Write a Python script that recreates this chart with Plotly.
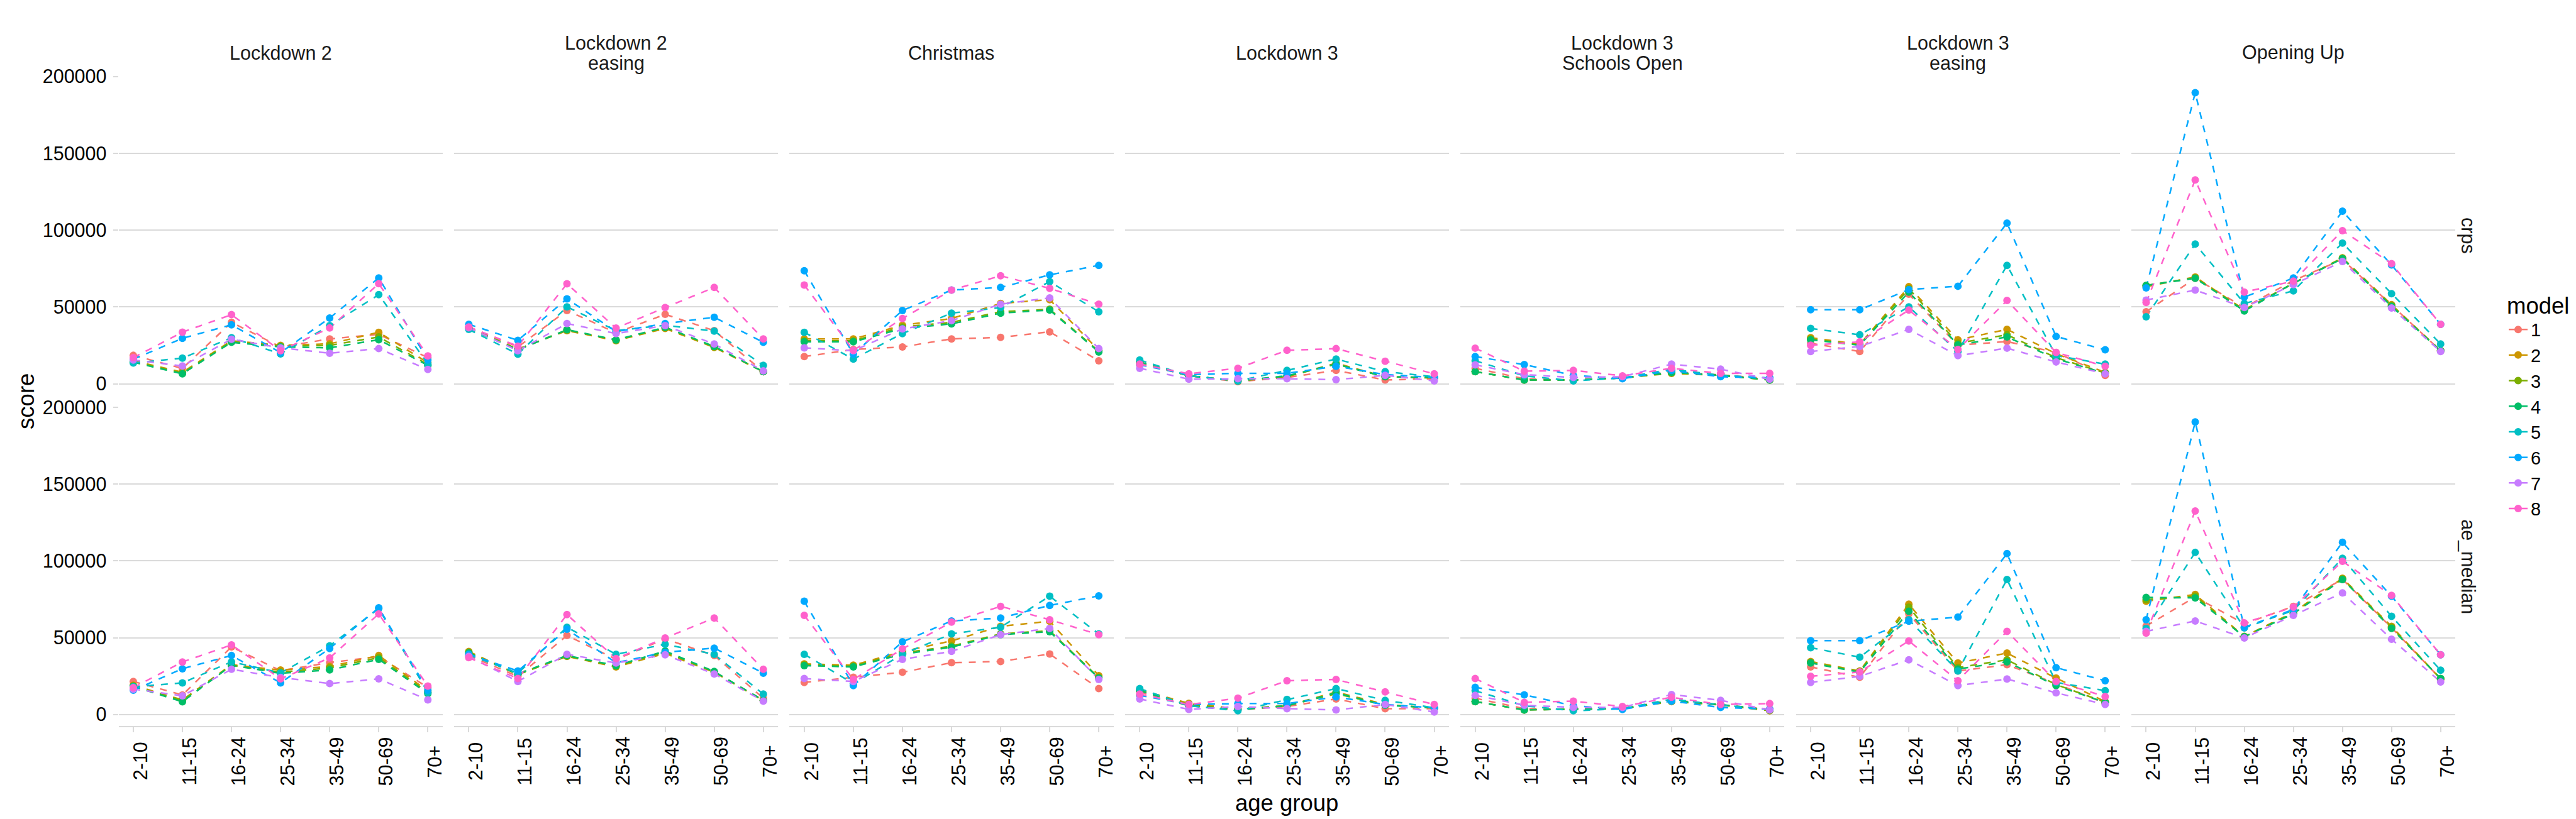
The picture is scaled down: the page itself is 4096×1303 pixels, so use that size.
import plotly.graph_objects as go

# ---------------- data ----------------
periods = ["Lockdown 2", "Lockdown 2\neasing", "Christmas", "Lockdown 3",
           "Lockdown 3\nSchools Open", "Lockdown 3\neasing", "Opening Up"]
metrics = ["crps", "ae_median"]
age_groups = ["2-10", "11-15", "16-24", "25-34", "35-49", "50-69", "70+"]
models = ["1", "2", "3", "4", "5", "6", "7", "8"]
colors = ["#F8766D", "#CD9600", "#7CAE00", "#00BE67",
          "#00BFC4", "#00A9FF", "#C77CFF", "#FF61CC"]
y_ticks = [0, 50000, 100000, 150000, 200000]

# values in thousands; one row per model (1..8), one column per age group
crps_lockdown_2 = [
    [18.5, 10, 40, 24, 29.2, 32.2, 17],
    [15, 7.5, 28, 25, 26, 33.5, 13.7],
    [14.5, 7, 27.5, 24.5, 25, 30.5, 12.5],
    [14, 6.5, 27, 24, 23.4, 28.7, 12],
    [13.5, 16.7, 30, 19.5, 37.9, 58, 12.9],
    [16, 29.6, 38.4, 20.3, 42.8, 68.9, 15.5],
    [15.5, 11.6, 29, 23.4, 19.9, 22.9, 9.3],
    [17, 33.6, 45, 21.5, 36.3, 65.2, 18.1],
]
crps_lockdown_2_easing = [
    [37, 24, 47.7, 33.2, 45.2, 34.6, 7.9],
    [36.5, 22.5, 34.6, 28.1, 36, 23.7, 7.9],
    [36.5, 22.5, 35, 28.4, 36.5, 24, 7.9],
    [36, 22, 35.2, 28.6, 36.8, 24.3, 7.9],
    [35.4, 19.3, 50.1, 34.6, 38.1, 34.3, 12],
    [38.7, 28.3, 55.3, 34, 39.2, 43.3, 27],
    [36.5, 21.5, 39.2, 32.7, 37.9, 25.9, 8.4],
    [37, 24.5, 65.1, 36.2, 49.6, 62.7, 29.2],
]
crps_christmas = [
    [17.7, 22.3, 24, 29.2, 30.2, 33.8, 15],
    [29.2, 29.2, 38.1, 42.5, 52.3, 54.8, 21.8],
    [28, 28, 37, 40, 46.9, 48.5, 21.2],
    [27.3, 27.3, 36, 39, 46, 48, 20.7],
    [33.5, 16.1, 32.7, 46, 49.6, 66.5, 46.9],
    [73.6, 19.3, 47.7, 61, 62.7, 70.9, 77.1],
    [23.4, 21.5, 35.7, 41.1, 51.8, 55.9, 22.9],
    [64.3, 21.8, 42.5, 61, 70.3, 62.1, 51.8],
]
crps_lockdown_3 = [
    [13.4, 5.2, 1.4, 4.1, 8.7, 2.5, 3.3],
    [14.2, 5.2, 1.9, 4.6, 13.4, 4.6, 3.8],
    [14, 5.2, 1.9, 4.8, 12.8, 4.6, 4],
    [14.2, 5.2, 1.9, 5.2, 12.8, 4.6, 4.1],
    [15.5, 5.2, 1.9, 8.7, 16.1, 7.9, 4.6],
    [12.3, 6, 6.8, 6.8, 11.4, 6, 4.1],
    [10.1, 3, 3.3, 3.3, 2.7, 5.5, 1.9],
    [12.8, 6.5, 10.1, 21.8, 22.9, 14.7, 6.5],
]
crps_lockdown_3_schools = [
    [10.1, 3.3, 2.5, 3.8, 7.9, 5.8, 3.3],
    [7.9, 2.5, 2.5, 3.8, 6.8, 5.5, 2.5],
    [7.9, 2.5, 2.5, 3.8, 7.1, 5.5, 2.5],
    [7.9, 2.5, 2.5, 3.8, 7.4, 5.5, 2.5],
    [15, 5.2, 1.9, 3.8, 9.5, 5.5, 3.8],
    [17.7, 12.5, 5.5, 3.3, 8.7, 4.6, 3.8],
    [12.3, 6, 4.1, 4.6, 12.8, 9.5, 3],
    [23.2, 8.2, 8.7, 5.2, 10.1, 6.8, 6.8],
]
crps_lockdown_3_easing = [
    [26.4, 21, 58.3, 25.1, 27.5, 20.4, 5.5],
    [30, 25.6, 63.2, 28.6, 35.4, 19.6, 7.4],
    [29.2, 25.3, 61.9, 26.4, 31.9, 17, 7],
    [28.6, 25.1, 59.7, 25.3, 30.5, 16.3, 6.8],
    [36, 31.9, 50.1, 21, 77.1, 18.3, 12.8],
    [48.2, 48.2, 61.3, 63.5, 104.6, 30.8, 22.1],
    [21, 24.3, 35.4, 18.3, 23.2, 14.2, 6.5],
    [25.1, 27.3, 48, 22.3, 54.2, 20.4, 11.4],
]
crps_opening_up = [
    [46.9, 68.7, 49.6, 67.2, 80.9, 51, 21.5],
    [63.2, 69.5, 48.2, 65.4, 82, 51.5, 21.5],
    [64, 69, 48, 65.4, 81.8, 51, 21.5],
    [64, 68.7, 47.4, 65.4, 81.5, 50.4, 21.5],
    [43.6, 91, 52.3, 60.5, 91.6, 58.6, 25.9],
    [62.4, 189.5, 56.4, 68.9, 112.3, 77.4, 38.7],
    [54.5, 61, 49.6, 64.6, 79.6, 49.3, 21],
    [52.9, 132.7, 59.7, 66.8, 99.7, 78.2, 38.7],
]
ae_lockdown_2 = [
    [21.5, 12.7, 44, 28.5, 33.8, 37.7, 17.6],
    [19, 9.5, 32.4, 28.9, 31.2, 38.4, 15.3],
    [18.5, 9.2, 32, 27.6, 30.3, 37, 14.4],
    [18.3, 8.3, 32, 26.8, 29, 35.9, 13.6],
    [18, 20.6, 34.3, 27.1, 44.7, 69, 14.4],
    [15.8, 29.8, 38.4, 20.6, 43, 69.4, 15.8],
    [16.5, 12.2, 29.4, 24.1, 20.1, 23.2, 9.5],
    [17.5, 34.2, 45.3, 23.2, 36.8, 65.5, 18.5],
]
ae_lockdown_2_easing = [
    [38.4, 24.8, 51.4, 35.9, 49.2, 38.4, 10.6],
    [41, 26.1, 37.8, 31, 39.7, 27.5, 9.2],
    [40.5, 26, 38, 31.4, 40.5, 27.7, 9.2],
    [40, 26.4, 38.4, 31.8, 41.3, 28, 9.2],
    [38.9, 26.9, 56.8, 39.2, 45.7, 39.2, 13.3],
    [39.2, 28.3, 55.5, 33.7, 40.5, 43.2, 26.9],
    [37.8, 21.5, 39.2, 33.5, 38.9, 26.4, 8.7],
    [37, 23.4, 65, 36.4, 49.8, 62.8, 29.4],
]
ae_christmas = [
    [20.9, 24.2, 27.5, 33.7, 34.5, 39.4, 16.9],
    [32.9, 32.1, 41, 47.9, 57.4, 60.7, 25.3],
    [32.3, 31.5, 40, 44.5, 52.5, 54.5, 24],
    [31.8, 31, 39.2, 43.8, 52, 53.9, 23.7],
    [39.2, 20.1, 39.2, 52.5, 56.8, 77, 52.5],
    [73.7, 18.8, 47.3, 60.9, 62.8, 71, 77.2],
    [23.4, 21.5, 35.9, 41.1, 52, 56, 22.8],
    [64.5, 22.8, 42.7, 60.1, 70.4, 61.7, 52],
]
ae_lockdown_3 = [
    [14.7, 5.7, 3, 5.2, 10.1, 3.8, 3.8],
    [16, 7.3, 3.8, 5.7, 14.7, 6.5, 4.2],
    [15.7, 6.5, 3.4, 5.7, 13.5, 6.2, 4.3],
    [15.5, 5.7, 3, 5.7, 14.1, 6, 4.4],
    [16.9, 5.7, 2.4, 9.8, 16.9, 9.2, 4.4],
    [12.5, 6.5, 7.1, 7.1, 11.4, 6.5, 4.4],
    [10.1, 3.3, 5.2, 3.8, 3, 6.5, 1.6],
    [13.3, 6.5, 10.6, 22, 22.8, 14.7, 6.5],
]
ae_lockdown_3_schools = [
    [10.6, 3.8, 3.5, 3.8, 9.5, 6.3, 3.5],
    [8.4, 3, 3.5, 3.8, 8.4, 6.2, 2.4],
    [8.4, 3, 3.5, 3.8, 8.7, 6.3, 2.6],
    [8.4, 3, 3.5, 3.8, 9, 6.5, 3],
    [15.5, 5.7, 2.4, 3.8, 10, 6.2, 3.2],
    [17.7, 12.8, 5.7, 3.3, 8.7, 4.6, 3.5],
    [12.5, 6, 4.6, 4.6, 13, 9.2, 3],
    [23.4, 7.9, 8.7, 5.2, 11.2, 6.5, 7.1],
]
ae_lockdown_3_easing = [
    [31, 24.2, 65.6, 28.3, 32.4, 20.1, 7.3],
    [34.5, 28.3, 71.8, 33.5, 40, 23.7, 8.4],
    [34, 28, 69.9, 30.5, 35.6, 19.5, 8],
    [33.5, 27.5, 67.2, 29.6, 34.3, 18.8, 7.9],
    [43.5, 37.3, 61.7, 28.3, 87.9, 20.9, 15.5],
    [48.1, 48.1, 60.7, 63.4, 104.7, 30.5, 22],
    [20.9, 24.8, 35.6, 18.8, 23.1, 14.1, 6.5],
    [24.8, 27.7, 47.9, 22, 54.1, 21.5, 11.7],
]
ae_opening_up = [
    [57.6, 76.5, 59, 70.4, 88, 56.5, 23.2],
    [73.7, 78.1, 50.8, 66.5, 88.7, 57.4, 23.1],
    [74.8, 77, 50.7, 66, 88.3, 56.8, 23.3],
    [76.2, 75.9, 50.6, 65.6, 87.9, 56, 23.4],
    [56, 105.5, 56.3, 67.8, 101.7, 63.9, 28.8],
    [61.7, 190.4, 56.8, 68.3, 112.1, 77, 38.9],
    [54.1, 60.9, 49.8, 64.5, 79.2, 49, 21.2],
    [53, 132.5, 59.6, 69.9, 99.7, 77.5, 38.9],
]

crps_panels = [crps_lockdown_2, crps_lockdown_2_easing, crps_christmas, crps_lockdown_3,
               crps_lockdown_3_schools, crps_lockdown_3_easing, crps_opening_up]
ae_panels = [ae_lockdown_2, ae_lockdown_2_easing, ae_christmas, ae_lockdown_3,
             ae_lockdown_3_schools, ae_lockdown_3_easing, ae_opening_up]
panel_data = [crps_panels, ae_panels]

# ---------------- layout geometry (output pixels) ----------------
W, H = 4096, 1303
FONT = "Liberation Sans, Arial, Helvetica, sans-serif"
GRID = "#DADADA"
col_x0 = 180.6
col_step = 533.41
col_w = 515.1
row_top = [(97.5, 611.9), (630.6, 1145.0)]  # (top px, bottom px)
y_range = [-7500, 200216]
x_positions = list(range(len(age_groups)))


def px_x(p):
    return p / W


def px_y(p):
    return 1 - p / H


fig = go.Figure()
layout = {}

for r in range(2):
    for c in range(7):
        idx = r * 7 + c + 1
        xn = "x" if idx == 1 else f"x{idx}"
        yn = "y" if idx == 1 else f"y{idx}"
        xa = "xaxis" if idx == 1 else f"xaxis{idx}"
        ya = "yaxis" if idx == 1 else f"yaxis{idx}"
        x0 = col_x0 + c * col_step
        layout[xa] = dict(
            domain=[px_x(x0), px_x(x0 + col_w)], anchor=yn,
            range=[-0.3, 6.3], showgrid=False, zeroline=False,
            tickvals=x_positions, showticklabels=False,
            showline=(r == 1), linecolor=GRID, linewidth=2.2,
            ticks="outside" if r == 1 else "", ticklen=7.5, tickwidth=2.2, tickcolor=GRID,
            fixedrange=True,
        )
        layout[ya] = dict(
            domain=[px_y(row_top[r][1]), px_y(row_top[r][0])], anchor=xn,
            range=y_range, showgrid=True, gridcolor=GRID, gridwidth=2.2,
            zeroline=False, showline=False,
            tickvals=y_ticks, ticktext=[str(v) for v in y_ticks],
            showticklabels=(c == 0),
            ticks="outside" if c == 0 else "", ticklen=8, tickwidth=2.2, tickcolor=GRID,
            tickfont=dict(family=FONT, size=30.5, color="#000000"),
            ticklabelstandoff=4,
            fixedrange=True,
        )

# lines first (all), then points on top
for mode in ["lines", "markers"]:
    for r in range(2):
        for c in range(7):
            idx = r * 7 + c + 1
            xn = "x" if idx == 1 else f"x{idx}"
            yn = "y" if idx == 1 else f"y{idx}"
            for m, name in enumerate(models):
                vals = [v * 1000 for v in panel_data[r][c][m]]
                fig.add_trace(go.Scatter(
                    x=x_positions, y=vals, xaxis=xn, yaxis=yn, mode=mode,
                    line=dict(color=colors[m], width=2.5, dash="11px,11px"),
                    marker=dict(color=colors[m], size=12, line=dict(width=0)),
                    showlegend=False, hoverinfo="skip", cliponaxis=True,
                ))

# legend entries
for m, name in enumerate(models):
    fig.add_trace(go.Scatter(
        x=[None], y=[None], xaxis="x", yaxis="y", mode="lines+markers", name=name,
        line=dict(color=colors[m], width=2.5),
        marker=dict(color=colors[m], size=12),
    ))

annotations = []
# top strip labels
for c, label in enumerate(periods):
    cx = px_x(col_x0 + c * col_step + col_w / 2)
    lines = label.split("\n")
    if len(lines) == 1:
        centers = [113 * 0.6206 - 10.8]
    else:
        centers = [87 * 0.6206 - 10.8, 140 * 0.6206 - 10.8]
    for txt, cy in zip(lines, centers):
        annotations.append(dict(
            text=txt, x=cx, y=px_y(cy), xref="paper", yref="paper",
            xanchor="center", yanchor="middle", showarrow=False,
            font=dict(family=FONT, size=30.5, color="#1A1A1A"),
        ))
# right strip labels
for r, label in enumerate(metrics):
    annotations.append(dict(
        text=label, x=px_x(3917), y=px_y((row_top[r][0] + row_top[r][1]) / 2),
        xref="paper", yref="paper", xanchor="center", yanchor="middle",
        textangle=90, showarrow=False,
        font=dict(family=FONT, size=30.5, color="#1A1A1A"),
    ))
# x tick labels (rotated, centred)
for r in [1]:
    for c in range(7):
        idx = r * 7 + c + 1
        xn = "x" if idx == 1 else f"x{idx}"
        for i, ag in enumerate(age_groups):
            annotations.append(dict(
                text=ag, x=x_positions[i], y=px_y(1202), xref=xn, yref="paper",
                xanchor="center", yanchor="middle", textangle=-90, xshift=11,
                showarrow=False, font=dict(family=FONT, size=30.5, color="#000000"),
            ))
# axis titles
annotations.append(dict(
    text="age group", x=px_x(2038), y=px_y(1269), xref="paper", yref="paper",
    xanchor="center", yanchor="middle", showarrow=False,
    font=dict(family=FONT, size=36.5, color="#000000"),
))
annotations.append(dict(
    text="score", x=px_x(34), y=px_y(622), xref="paper", yref="paper",
    xanchor="center", yanchor="middle", textangle=-90, showarrow=False,
    font=dict(family=FONT, size=36.5, color="#000000"),
))

fig.update_layout(
    width=W, height=H, autosize=False,
    margin=dict(l=0, r=0, t=0, b=0),
    paper_bgcolor="white", plot_bgcolor="white",
    annotations=annotations,
    legend=dict(
        x=px_x(3976), y=px_y(432), xanchor="left", yanchor="top",
        title=dict(text="model", font=dict(family=FONT, size=36.5, color="#000000")),
        font=dict(family=FONT, size=29, color="#000000"),
        bgcolor="rgba(0,0,0,0)", borderwidth=0, itemwidth=30,
        tracegroupgap=0,
    ),
    **layout,
)

fig.write_html("out.html")
